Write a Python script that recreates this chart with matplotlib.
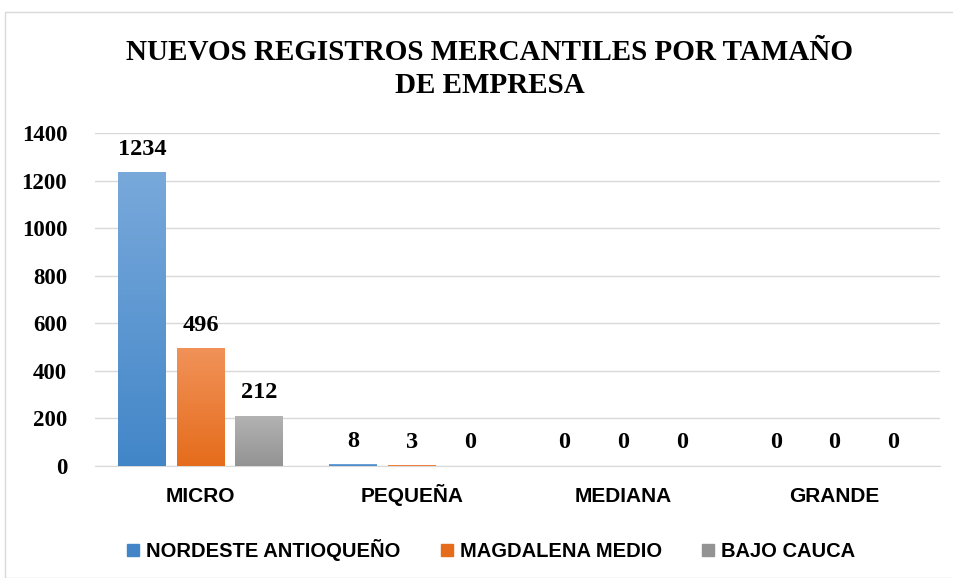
import numpy as np
import matplotlib.pyplot as plt
from matplotlib.patches import Rectangle
from matplotlib.colors import LinearSegmentedColormap

categories = ['MICRO', 'PEQUEÑA', 'MEDIANA', 'GRANDE']
series_names = ['NORDESTE ANTIOQUEÑO', 'MAGDALENA MEDIO', 'BAJO CAUCA']
nordeste = [1234, 8, 0, 0]
magdalena = [496, 3, 0, 0]
bajo_cauca = [212, 0, 0, 0]
y_ticks = [0, 200, 400, 600, 800, 1000, 1200, 1400]

# top colour, bottom colour of each gradient
grads = [('#79A9DB', '#4286C8'), ('#F19259', '#E56C1B'), ('#B3B3B3', '#939393')]

serif = 'Liberation Serif'
sans = 'Liberation Sans'

fig = plt.figure(figsize=(9.54, 5.78), dpi=100)
fig.patches.append(Rectangle((5 / 954, 0), 1, 1 - 12 / 578, transform=fig.transFigure,
                             fill=False, edgecolor='#D9D9D9', linewidth=1))
ax = fig.add_axes([95 / 954, 1 - 466 / 578, 845 / 954, 333 / 578])

x = np.arange(len(categories))
width = 0.227
offsets = [-0.277, 0, 0.277]

for vals, off, (c_top, c_bot), name in zip([nordeste, magdalena, bajo_cauca], offsets, grads, series_names):
    bars = ax.bar(x + off, vals, width, color=c_bot, label=name, zorder=2)
    cmap = LinearSegmentedColormap.from_list('g', [c_bot, c_top])
    for b, v in zip(bars, vals):
        if v > 0:
            grad = np.linspace(0, 1, 256).reshape(-1, 1)
            im = ax.imshow(grad, cmap=cmap, origin='lower', aspect='auto', zorder=3,
                           extent=[b.get_x(), b.get_x() + b.get_width(), 0, v])
            im.set_clip_path(b)
        ax.annotate(str(v), (b.get_x() + b.get_width() / 2, v), xytext=(0, 9),
                    textcoords='offset points', ha='center', va='bottom',
                    fontsize=17.5, fontweight='bold', family=serif, zorder=4)

ax.set_xlim(-0.5, 3.5)
ax.set_ylim(0, 1400)
ax.set_yticks(y_ticks)
ax.set_yticklabels([str(t) for t in y_ticks], fontsize=16.5, fontweight='bold', family=serif)
ax.set_xticks(x)
ax.set_xticklabels([])
for xi, cat in zip(x, categories):
    ax.annotate(cat, (xi, 0), xytext=(0, -36), textcoords='offset pixels', ha='center',
                va='baseline', fontsize=15, fontweight='bold', family=sans)
ax.tick_params(length=0)
ax.tick_params(axis='y', pad=20)
ax.grid(axis='y', color='#D9D9D9', linewidth=1, zorder=0)
ax.set_axisbelow(True)
for s in ['top', 'right', 'left']:
    ax.spines[s].set_visible(False)
ax.spines['bottom'].set_color('#D9D9D9')

fig.text(0.513, 1 - 69 / 578, 'NUEVOS REGISTROS MERCANTILES POR TAMAÑO\nDE EMPRESA',
         ha='center', va='center', fontsize=21, fontweight='bold', family=serif, linespacing=1.3)

handles = [Rectangle((0, 0), 1, 1, color=g[1]) for g in grads]
fig.legend(handles, series_names, loc='center', bbox_to_anchor=(0.515, 1 - 550 / 578), ncol=3,
           frameon=False, prop={'family': sans, 'weight': 'bold', 'size': 14.5},
           handlelength=0.6, handleheight=0.6, handletextpad=0.35, columnspacing=2.0)

fig.savefig('out.png', dpi=100)
